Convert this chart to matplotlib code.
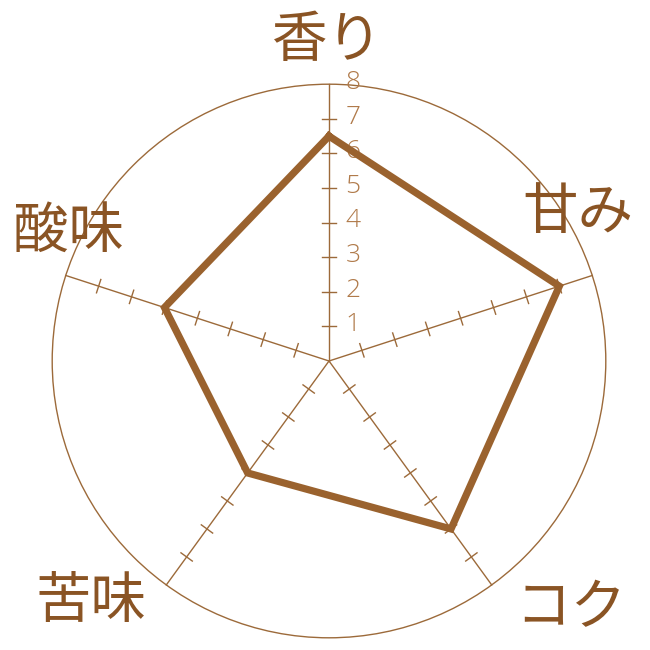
import numpy as np
import matplotlib.pyplot as plt
from matplotlib.patches import Circle

plt.rcParams['font.family'] = ['Noto Sans CJK JP', 'DejaVu Sans']

# data
categories = ['香り', '甘み', 'コク', '苦味', '酸味']
values = [6.5, 7, 6, 4, 5]
max_val = 8
ring_labels = ['1', '2', '3', '4', '5', '6', '7', '8']

line_col = '#9a622e'
text_col = '#8a5424'
thin_col = '#9c6a3a'
num_col = '#b07a4a'

# label placement (data units, center = 0,0)
label_pos = [(-0.03, 9.25), (7.2, 4.27), (6.99, -7.15), (-6.88, -6.98), (-7.54, 3.69)]

unit = 34.6  # px per unit
fig = plt.figure(figsize=(6.5, 6.5), dpi=100)
ax = fig.add_axes([0, 0, 1, 1])
ax.set_xlim(-329 / unit, 321 / unit)
ax.set_ylim(-289 / unit, 361 / unit)
ax.set_aspect('equal')
ax.axis('off')

n = len(categories)
angles = np.pi / 2 - np.arange(n) * 2 * np.pi / n

# outer circle
ax.add_patch(Circle((0, 0), max_val, fill=False, ec=thin_col, lw=1.0))

# spokes with tick marks
tick_half = 7 / unit
for a in angles:
    ax.plot([0, max_val * np.cos(a)], [0, max_val * np.sin(a)], color=thin_col, lw=1.0)
    px, py = -np.sin(a), np.cos(a)
    for r in range(1, max_val):
        cx, cy = r * np.cos(a), r * np.sin(a)
        ax.plot([cx - px * tick_half, cx + px * tick_half],
                [cy - py * tick_half, cy + py * tick_half], color=thin_col, lw=1.0)

# scale numbers on top spoke
for i, lab in enumerate(ring_labels):
    ax.text(24 / unit, i + 1 + 0.05, lab, ha='center', va='center',
            fontsize=19, color=num_col, family=['Open Sans', 'DejaVu Sans'],
            fontweight='light')

# data polygon
xs = [v * np.cos(a) for v, a in zip(values, angles)]
ys = [v * np.sin(a) for v, a in zip(values, angles)]
xs.append(xs[0])
ys.append(ys[0])
ax.plot(xs, ys, color=line_col, lw=5.2, solid_joinstyle='miter', zorder=5)

# category labels
for lab, (lx, ly) in zip(categories, label_pos):
    ax.text(lx, ly, lab, ha='center', va='center', fontsize=40, color=text_col)

fig.savefig('out.png', dpi=100)
